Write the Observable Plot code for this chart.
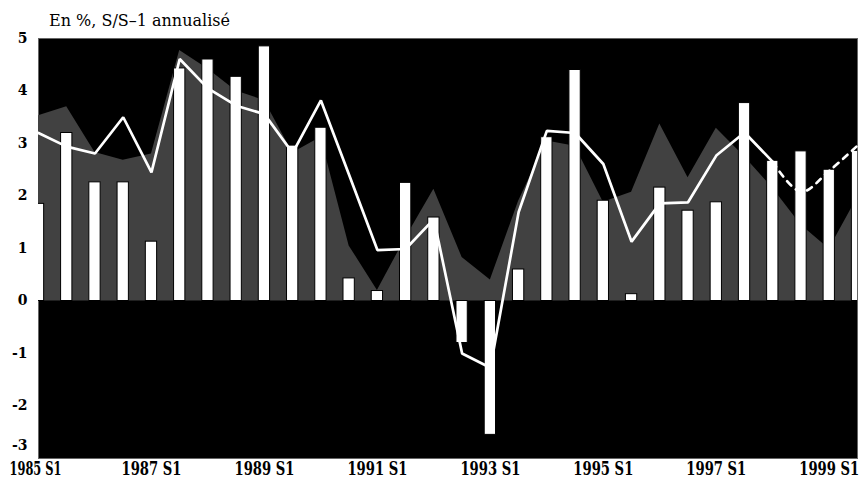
<!DOCTYPE html>
<html>
<head>
<meta charset="utf-8">
<script src="https://cdn.jsdelivr.net/npm/d3@7"></script>
<script src="https://cdn.jsdelivr.net/npm/@observablehq/plot@0.6"></script>
<style>
  body { margin: 0; background: #ffffff; }
</style>
</head>
<body>
<div id="chart"></div>
<script>
// ---- Data ----
const periods = [
  "1985 S1","1985 S2","1986 S1","1986 S2","1987 S1","1987 S2",
  "1988 S1","1988 S2","1989 S1","1989 S2","1990 S1","1990 S2",
  "1991 S1","1991 S2","1992 S1","1992 S2","1993 S1","1993 S2",
  "1994 S1","1994 S2","1995 S1","1995 S2","1996 S1","1996 S2",
  "1997 S1","1997 S2","1998 S1","1998 S2","1999 S1","1999 S2"
];
// white bars
const barValues = [
  1.85, 3.20, 2.26, 2.26, 1.13, 4.43, 4.60, 4.27, 4.85, 2.96,
  3.30, 0.43, 0.19, 2.25, 1.59, -0.80, -2.55, 0.60, 3.12, 4.40,
  1.91, 0.13, 2.16, 1.72, 1.88, 3.77, 2.67, 2.85, 2.50, 2.86
];
// grey area
const areaValues = [
  3.53, 3.70, 2.83, 2.68, 2.80, 4.77, 4.42, 4.00, 3.82, 2.82,
  3.12, 1.05, 0.20, 1.20, 2.13, 0.83, 0.40, 1.90, 3.05, 2.95,
  1.88, 2.07, 3.37, 2.35, 3.29, 2.75, 2.15, 1.45, 0.99, 1.97
];
// white line (dashed from forecastStart)
const lineValues = [
  3.20, 2.94, 2.81, 3.50, 2.45, 4.61, 4.05, 3.72, 3.56, 2.82,
  3.82, 2.40, 0.97, 0.99, 1.56, -1.00, -1.27, 1.69, 3.24, 3.20,
  2.61, 1.13, 1.86, 1.88, 2.77, 3.21, 2.65, 2.08, 2.48, 2.96
];
const forecastStart = "1998 S1";
const xTickPeriods = ["1985 S1","1987 S1","1989 S1","1991 S1","1993 S1","1995 S1","1997 S1","1999 S1"];
const yTicks = [-3, -2, -1, 0, 1, 2, 3, 4, 5];
const titleText = "En %, S/S\u20131 annualisé";

// ---- Build table ----
const data = periods.map((p, i) => ({
  i, period: p, bar: barValues[i], area: areaValues[i], line: lineValues[i]
}));
const fIdx = periods.indexOf(forecastStart);
const xTicks = xTickPeriods.map(p => periods.indexOf(p));
const halfBar = 0.2;

const chart = Plot.plot({
  width: 862,
  height: 489,
  marginTop: 38,
  marginBottom: 31,
  marginLeft: 38,
  marginRight: 5,
  style: { fontFamily: "DejaVu Serif", fontSize: "14px", background: "#ffffff", color: "#000" },
  x: {
    domain: [0, periods.length - 1],
    ticks: xTicks,
    tickFormat: i => periods[i],
    tickSize: 0,
    tickPadding: 3,
    label: null
  },
  y: {
    domain: [-3, 5],
    ticks: yTicks,
    tickFormat: d => String(d),
    tickSize: 0,
    tickPadding: 11,
    label: null
  },
  marks: [
    Plot.frame({ fill: "black", stroke: "#666", strokeWidth: 1 }),
    Plot.areaY(data, { x: "i", y: "area", fill: "#414141" }),
    Plot.rect(data, {
      x1: d => d.i - halfBar,
      x2: d => d.i + halfBar,
      y1: 0,
      y2: "bar",
      fill: "white",
      stroke: "black",
      strokeWidth: 1,
      clip: true
    }),
    Plot.line(data.filter(d => d.i <= fIdx), {
      x: "i", y: "line", stroke: "white", strokeWidth: 2.7, strokeLinejoin: "miter"
    }),
    Plot.line(data.filter(d => d.i >= fIdx), {
      x: "i", y: "line", stroke: "white", strokeWidth: 2.7,
      strokeDasharray: "6,6", curve: "catmull-rom"
    })
  ]
});

document.getElementById("chart").appendChild(chart);

const svg = d3.select(chart);
// x tick labels: condensed bold serif (horizontal scaling)
svg.selectAll('g[aria-label="x-axis tick label"] text')
  .attr("font-size", "19px")
  .attr("font-weight", "bold")
  .each(function () {
    const first = this.textContent === periods[0];
    const target = first ? 52 : 60;
    const w = this.getComputedTextLength() || target;
    const s = target / w;
    const t = this.getAttribute("transform") || "";
    this.setAttribute("transform", t + (first ? " translate(-3,0)" : "") + ` scale(${s},1)`);
  });
// y tick labels
svg.selectAll('g[aria-label="y-axis tick label"] text')
  .attr("font-size", "14px")
  .attr("font-weight", "bold");
// lowest y label lifted above the x labels
svg.selectAll('g[aria-label="y-axis tick label"] text')
  .filter(function () { return this.textContent === "-3"; })
  .attr("y", -9);

// title
svg.append("text")
  .attr("x", 49)
  .attr("y", 25.5)
  .attr("text-anchor", "start")
  .attr("font-family", "DejaVu Serif")
  .attr("font-size", "16px")
  .attr("font-weight", "normal")
  .attr("fill", "#000")
  .text(titleText);
</script>
</body>
</html>
